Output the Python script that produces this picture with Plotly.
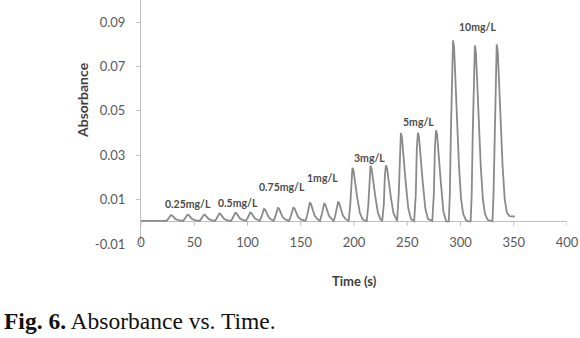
import plotly.graph_objects as go

# ---- data ----
time_s = [
    0, 24,
    24, 25.5, 27, 28, 29, 30.5, 32.5, 35,
    39.5, 41, 42.5, 43.5, 44.5, 46, 48, 50.5,
    55, 56.5, 58, 59, 60, 61.5, 63.5, 66,
    69.5, 71, 72.5, 73.5, 74.5, 76, 78, 80.5,
    84.5, 86, 87.5, 88.5, 89.5, 91, 93, 95.5,
    98.5, 100, 101.5, 102.5, 103.5, 105, 107, 109.5,
    111.5, 113, 114.5, 115.5, 116.5, 118, 120, 122.5,
    124.5, 126, 127.5, 128.5, 129.5, 131, 133, 135.5,
    139, 140.5, 142, 143, 144, 145.5, 147.5, 150,
    154.5, 156, 157.5, 158.5, 159.5, 161, 163, 165.5,
    168, 169.5, 171, 172, 173, 174.5, 176.5, 179,
    181, 182.5, 184, 185, 186, 187.5, 189.5, 192,
    195, 196.5, 197.5, 198.5, 199.5, 201, 203, 205.5, 208, 210,
    212, 213.5, 214.5, 215.5, 216.5, 218, 220, 222.5, 225,
    226.5, 228, 229, 230, 231, 232.5, 234.5, 237, 239.5,
    240.5, 242, 243, 244, 245, 246.5, 248.5, 251, 253.5,
    256.5, 258, 259, 260, 261, 262.5, 264.5, 267, 269.5,
    273.5, 275, 276, 277, 278, 279.5, 281.5, 284, 286.5,
    289, 290, 291, 292, 293, 294, 295, 296.8, 298.5, 300.5, 302.5, 305, 307,
    309.5, 310.5, 311.5, 312.5, 313.5, 314.5, 315.5, 317.3, 319, 321, 323, 325.5,
    330, 331, 332, 333, 334, 335, 336, 337.8, 339.5, 341.5, 343.5, 346, 351,
]
absorbance = [
    0.0004, 0.0004,
    0.0004, 0.0013, 0.0026, 0.0030, 0.0029, 0.0021, 0.0012, 0.0008,
    0.0004, 0.0013, 0.0028, 0.0032, 0.0031, 0.0022, 0.0013, 0.0008,
    0.0004, 0.0013, 0.0028, 0.0032, 0.0031, 0.0022, 0.0013, 0.0008,
    0.0004, 0.0015, 0.0032, 0.0037, 0.0036, 0.0025, 0.0014, 0.0008,
    0.0004, 0.0016, 0.0035, 0.0040, 0.0039, 0.0027, 0.0015, 0.0009,
    0.0004, 0.0016, 0.0036, 0.0042, 0.0040, 0.0028, 0.0015, 0.0009,
    0.0004, 0.0021, 0.0050, 0.0058, 0.0056, 0.0038, 0.0020, 0.0010,
    0.0004, 0.0022, 0.0053, 0.0062, 0.0060, 0.0040, 0.0021, 0.0011,
    0.0004, 0.0023, 0.0055, 0.0064, 0.0062, 0.0041, 0.0022, 0.0011,
    0.0004, 0.0029, 0.0073, 0.0085, 0.0082, 0.0055, 0.0028, 0.0013,
    0.0004, 0.0028, 0.0070, 0.0082, 0.0079, 0.0053, 0.0027, 0.0013,
    0.0004, 0.0030, 0.0076, 0.0088, 0.0085, 0.0057, 0.0029, 0.0013,
    0.0004, 0.0076, 0.0200, 0.0243, 0.0232, 0.0170, 0.0110, 0.0040, 0.0012, 0.0006,
    0.0004, 0.0079, 0.0208, 0.0253, 0.0241, 0.0177, 0.0114, 0.0040, 0.0010,
    0.0004, 0.0080, 0.0210, 0.0255, 0.0243, 0.0179, 0.0115, 0.0040, 0.0010,
    0.0004, 0.0124, 0.0330, 0.0400, 0.0382, 0.0280, 0.0180, 0.0060, 0.0012,
    0.0004, 0.0124, 0.0332, 0.0402, 0.0384, 0.0281, 0.0181, 0.0060, 0.0012,
    0.0004, 0.0127, 0.0340, 0.0413, 0.0394, 0.0289, 0.0180, 0.0045, 0.0002,
    0.0002, 0.0125, 0.0410, 0.0696, 0.0818, 0.0785, 0.0650, 0.0470, 0.0260, 0.0105, 0.0036, 0.0009, 0.0002,
    0.0002, 0.0121, 0.0399, 0.0676, 0.0795, 0.0763, 0.0632, 0.0457, 0.0253, 0.0102, 0.0035, 0.0009,
    0.0002, 0.0122, 0.0401, 0.0680, 0.0800, 0.0768, 0.0636, 0.0460, 0.0254, 0.0102, 0.0042, 0.0026, 0.0024,
]

label_text = ["0.25mg/L", "0.5mg/L", "0.75mg/L", "1mg/L", "3mg/L", "5mg/L", "10mg/L"]
label_x = [44.5, 91, 132.5, 170, 215, 261, 315.5]
label_y = [0.0081, 0.0087, 0.0159, 0.0198, 0.0288, 0.0452, 0.0880]

x_ticks = [0, 50, 100, 150, 200, 250, 300, 350, 400]
y_ticks = [-0.01, 0.01, 0.03, 0.05, 0.07, 0.09]
y_tick_text = ["-0.01", "0.01", "0.03", "0.05", "0.07", "0.09"]

AXIS_GREY = "#bfbfbf"
TICK_FONT = dict(family="Lato, Roboto, sans-serif", size=13, color="#595959")

fig = go.Figure()
fig.add_trace(go.Scatter(
    x=time_s, y=absorbance, mode="lines",
    line=dict(color="#8a8a8a", width=1.8),
    showlegend=False, hoverinfo="skip",
))

for t, xv, yv in zip(label_text, label_x, label_y):
    fig.add_annotation(x=xv, y=yv, text=f"<b>{t}</b>", showarrow=False,
                       font=dict(family="Lato, Roboto, sans-serif", size=10.5, color="#4d4d4d"),
                       xanchor="center", yanchor="middle")

# small tick marks on the horizontal axis (which crosses at zero)
for xv in x_ticks:
    fig.add_shape(type="line", xref="x", yref="y", x0=xv, x1=xv,
                  ysizemode="pixel", yanchor=0, y0=0, y1=-4,
                  line=dict(color=AXIS_GREY, width=1))

fig.update_layout(
    width=580, height=338,
    margin=dict(l=141, r=13, t=0, b=94),
    paper_bgcolor="white", plot_bgcolor="white",
    xaxis=dict(range=[0, 400], tickvals=x_ticks, showgrid=False, zeroline=False,
               showline=False, ticks="", tickfont=TICK_FONT, ticklabelstandoff=-11),
    yaxis=dict(range=[-0.01, 0.1], tickvals=y_ticks, ticktext=y_tick_text,
               showgrid=False, zeroline=True, zerolinecolor=AXIS_GREY, zerolinewidth=1,
               showline=True, linecolor=AXIS_GREY, linewidth=1,
               ticks="outside", ticklen=4, tickcolor=AXIS_GREY,
               tickfont=TICK_FONT, ticklabelstandoff=8),
)

fig.add_annotation(xref="paper", yref="paper", x=0.5, y=(244 - 281) / 244,
                   text="<b>Time (s)</b>", showarrow=False,
                   font=dict(family="Lato, Roboto, sans-serif", size=13, color="#404040"),
                   xanchor="center", yanchor="middle")
fig.add_annotation(xref="paper", yref="paper", x=(82 - 141) / 426, y=(244 - 100) / 244,
                   text="<b>Absorbance</b>", showarrow=False, textangle=-90,
                   font=dict(family="Lato, Roboto, sans-serif", size=14, color="#404040"),
                   xanchor="center", yanchor="middle")
fig.add_annotation(xref="paper", yref="paper", x=(2 - 141) / 426, y=(244 - 321) / 244,
                   text="<b>Fig. 6.</b> Absorbance vs. Time.", showarrow=False,
                   font=dict(family="Liberation Serif, Times New Roman, serif", size=23.5, color="#111111"),
                   xanchor="left", yanchor="middle")

fig.write_html("out.html", config={"displayModeBar": False},
               post_script="document.body.style.margin='0';document.body.style.overflow='hidden';")
